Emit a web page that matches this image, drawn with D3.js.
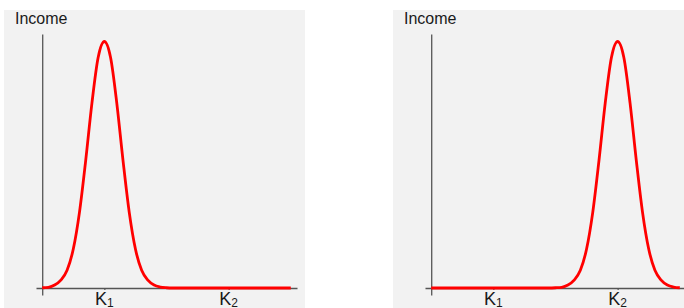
<!DOCTYPE html>
<html>
<head>
<meta charset="utf-8">
<script src="https://cdn.jsdelivr.net/npm/d3@7/dist/d3.min.js"></script>
<style>
  html, body { margin: 0; padding: 0; background: #ffffff; }
  svg { display: block; }
  text { font-family: "Liberation Sans", Arial, sans-serif; fill: #1a1a1a; }
</style>
</head>
<body>
<svg id="chart" width="684" height="308"></svg>
<script>
// ---- data ----
const xValues = [0.0,0.1,0.2,0.3,0.4,0.5,0.6,0.7,0.8,0.9,1.0,1.1,1.2,1.3,1.4,1.5,1.6,1.7,1.8,1.9,2.0,
                 2.1,2.2,2.3,2.4,2.5,2.6,2.7,2.8,2.9,3.0,3.1,3.2,3.3,3.4,3.5,3.6,3.7,3.8,3.9,4.0];
// income curve, left panel (peak at K1)
const incomeLeft = [0.001,0.003,0.012,0.032,0.072,0.158,0.308,0.518,0.750,0.935,1.000,0.935,0.750,0.518,0.308,0.158,0.072,0.032,0.012,0.004,0.001,
                    0,0,0,0,0,0,0,0,0,0,0,0,0,0,0,0,0,0,0,0];
// income curve, right panel (peak at K2)
const incomeRight = [0,0,0,0,0,0,0,0,0,0,0,0,0,0,0,0,0,0,0,0,0.001,
                     0.003,0.012,0.032,0.072,0.158,0.308,0.518,0.750,0.935,1.000,0.935,0.750,0.518,0.308,0.158,0.072,0.032,0.012,0.004,0.001];
const tickValues = [1, 3];
const tickLabels = [["K","1"],["K","2"]];
const yAxisTitle = "Income";

// ---- layout ----
const svg = d3.select("#chart");
const panels = [
  { dx: 0, data: incomeLeft },
  { dx: 389, data: incomeRight }
];

const x = d3.scaleLinear().domain([-0.1, 4.1]).range([36, 297]);
const y = d3.scaleLinear().domain([0, 1]).range([288, 41.5]);
const yAxisScale = d3.scaleLinear().domain([-0.028, 1.03]).range([y(-0.028), y(1.03)]);

panels.forEach(p => {
  const g = svg.append("g").attr("transform", `translate(${p.dx},0)`);

  g.append("rect")
    .attr("x", 4).attr("y", 10).attr("width", 301).attr("height", 298)
    .attr("fill", "#f2f2f2");

  // x axis
  const xAxis = g.append("g")
    .attr("transform", `translate(0,${y(0)})`)
    .call(d3.axisBottom(x).tickValues(tickValues).tickFormat("").tickSize(2).tickSizeOuter(0));
  xAxis.select(".domain").attr("stroke", "#555").attr("stroke-width", 1.3);
  xAxis.selectAll(".tick line").attr("stroke", "#555").attr("stroke-width", 1.2);

  // y axis
  const yAxis = g.append("g")
    .attr("transform", `translate(${x(0)},0)`)
    .call(d3.axisLeft(yAxisScale).tickValues([]).tickSizeOuter(0));
  yAxis.select(".domain").attr("stroke", "#555").attr("stroke-width", 1.3);

  // tick labels with subscripts
  tickValues.forEach((v, i) => {
    const t = g.append("text")
      .attr("x", x(v)).attr("y", 304.5)
      .attr("text-anchor", "middle")
      .style("font-size", "18px");
    t.append("tspan").text(tickLabels[i][0]);
    t.append("tspan").attr("dy", 2).style("font-size", "12px").text(tickLabels[i][1]);
  });

  // y title
  g.append("text")
    .attr("x", 15).attr("y", 24)
    .style("font-size", "16px")
    .text(yAxisTitle);

  // curve
  const pts = xValues.map((xv, i) => [xv, p.data[i]]);
  g.append("path")
    .datum(pts)
    .attr("fill", "none")
    .attr("stroke", "#ff0000")
    .attr("stroke-width", 2.8)
    .attr("stroke-linejoin", "round")
    .attr("d", d3.line().x(d => x(d[0])).y(d => y(d[1])).curve(d3.curveMonotoneX));
});
</script>
</body>
</html>
